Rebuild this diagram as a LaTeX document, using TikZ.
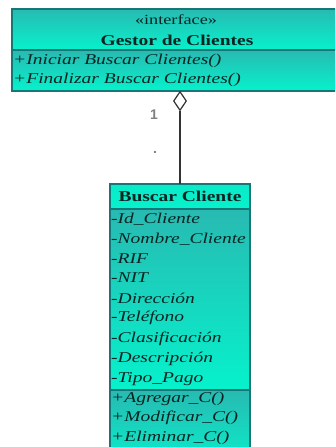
\documentclass[tikz,border=0pt]{standalone}
\usepackage{fontspec}
\setmainfont{Liberation Serif}
\setsansfont{Liberation Sans}
\usetikzlibrary{shapes.geometric}
\definecolor{umlDark}{RGB}{40,186,178}
\definecolor{umlBright}{RGB}{6,242,204}
\definecolor{umlEdge}{RGB}{22,120,118}
\definecolor{umlText}{RGB}{10,36,34}
\newcommand\widetxt[1]{\scalebox{1.3}[1]{#1}}
\tikzset{
  compartment/.style={draw=umlEdge, line width=1.2pt, top color=umlDark,
    bottom color=umlBright, anchor=north west, inner sep=0pt, outer sep=0pt},
  openpart/.style={compartment, draw=none},
  edge line/.style={draw=umlEdge, line width=1.2pt},
  member/.style={anchor=west, inner sep=0pt, text=umlText,
    font=\fontsize{15}{18}\selectfont\itshape},
  title/.style={inner sep=0pt, text=umlText, font=\fontsize{15}{18}\selectfont\bfseries},
  stereo/.style={inner sep=0pt, text=umlText, font=\fontsize{14}{16}\selectfont},
  mult/.style={inner sep=0pt, text=black!50, font=\sffamily\bfseries\fontsize{14}{16}\selectfont},
  aggr/.style={diamond, draw=black!80, fill=white, line width=1.2pt, inner sep=0pt,
    minimum width=13pt, minimum height=19pt},
  link/.style={draw=black!80, line width=1.3pt}
}
\begin{document}
\begin{tikzpicture}[x=1pt,y=-1pt]
  \useasboundingbox (0,0) rectangle (335,447);
  \clip (0,0) rectangle (335,447);
  \fill[white] (0,0) rectangle (335,447);

  % interface: Gestor de Clientes (runs past the right margin)
  \node[openpart, minimum width=340pt, minimum height=41pt] (gHead) at (12,9) {};
  \node[openpart, minimum width=340pt, minimum height=41pt] (gOps) at (12,50) {};
  \draw[edge line] (gHead.north east) -- (gHead.north west) -- (gOps.south west) -- (gOps.south east);
  \draw[edge line] (gHead.south west) -- (gHead.south east);
  \node[stereo] (gStereo) at (176,20) {\widetxt{«interface»}};
  \node[title] (gName) at (177,40) {\widetxt{Gestor de Clientes}};
  \node[member] (gOp1) at (13,61) {\widetxt{+Iniciar Buscar Clientes()}};
  \node[member] (gOp2) at (13,80) {\widetxt{+Finalizar Buscar Clientes()}};

  % class: Buscar Cliente
  \node[compartment, minimum width=140pt, minimum height=25pt,
        top color=umlBright!85!umlDark, bottom color=umlBright] (bHead) at (110,184) {};
  \node[compartment, minimum width=140pt, minimum height=181pt] (bAttr) at (110,209) {};
  \node[compartment, minimum width=140pt, minimum height=80pt] (bOps) at (110,390) {};
  \node[title] (bName) at (180,196.5) {\widetxt{Buscar Cliente}};
  \node[member] (a1) at (111,219) {\widetxt{-Id\_Cliente}};
  \node[member] (a2) at (111,239) {\widetxt{-Nombre\_Cliente}};
  \node[member] (a3) at (111,259) {\widetxt{-RIF}};
  \node[member] (a4) at (111,278) {\widetxt{-NIT}};
  \node[member] (a5) at (111,298) {\widetxt{-Dirección}};
  \node[member] (a6) at (111,318) {\widetxt{-Teléfono}};
  \node[member] (a7) at (111,339) {\widetxt{-Clasificación}};
  \node[member] (a8) at (111,359) {\widetxt{-Descripción}};
  \node[member] (a9) at (111,379) {\widetxt{-Tipo\_Pago}};
  \node[member] (m1) at (111,399) {\widetxt{+Agregar\_C()}};
  \node[member] (m2) at (111,418) {\widetxt{+Modificar\_C()}};
  \node[member] (m3) at (111,438) {\widetxt{+Eliminar\_C()}};

  % aggregation link
  \node[aggr] (dia) at (180,101) {};
  \draw[link] (dia.south) -- (bHead.north);
  \node[mult] (mOne) at (154,115) {1};
  \node[mult] (mDot) at (155,152) {.};
\end{tikzpicture}
\end{document}
